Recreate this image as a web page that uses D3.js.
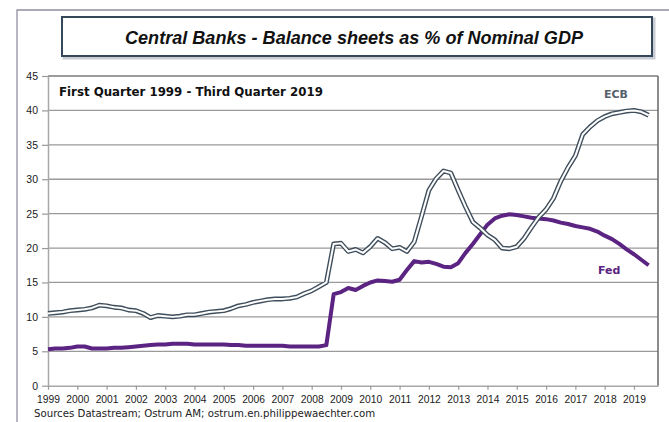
<!DOCTYPE html>
<html>
<head>
<meta charset="utf-8">
<script src="https://cdn.jsdelivr.net/npm/d3@7"></script>
<style>
  body { margin: 0; background: #fff; }
  svg { display: block; }
</style>
</head>
<body>
<div id="chart"></div>
<script>
// quarterly data, Q1 1999 .. Q3 2019 (% of nominal GDP)
var ecb = [10.5, 10.6, 10.7, 10.9,  11.0, 11.1, 11.3, 11.7,  11.6, 11.4, 11.3, 11.0,
           10.9, 10.5, 9.9, 10.2,   10.1, 10.0, 10.1, 10.3,  10.3, 10.5, 10.7, 10.8,
           10.9, 11.2, 11.6, 11.8,  12.1, 12.3, 12.5, 12.6,  12.6, 12.7, 12.9, 13.4,
           13.8, 14.4, 15.0, 20.6,  20.7, 19.5, 19.8, 19.3,  20.2, 21.4, 20.8, 19.9,
           20.1, 19.5, 20.9, 24.6,  28.4, 30.1, 31.2, 30.9,  28.4, 26.0, 23.8, 22.9,
           21.9, 21.2, 20.0, 19.9,  20.2, 21.4, 23.0, 24.5,  25.6, 27.2, 29.7, 31.7,
           33.4, 36.5, 37.6, 38.5,  39.1, 39.5, 39.7, 39.9,  40.0, 39.8, 39.3];
var fed = [5.3, 5.4, 5.4, 5.5,  5.7, 5.7, 5.4, 5.4,  5.4, 5.5, 5.5, 5.6,
           5.7, 5.8, 5.9, 6.0,  6.0, 6.1, 6.1, 6.1,  6.0, 6.0, 6.0, 6.0,
           6.0, 5.9, 5.9, 5.8,  5.8, 5.8, 5.8, 5.8,  5.8, 5.7, 5.7, 5.7,
           5.7, 5.7, 5.9, 13.3, 13.6, 14.2, 13.9, 14.5,  15.0, 15.3, 15.2, 15.1,
           15.4, 16.8, 18.1, 17.9,  18.0, 17.7, 17.3, 17.2,  17.8, 19.3, 20.6, 22.0,
           23.4, 24.3, 24.7, 24.9,  24.8, 24.6, 24.4, 24.3,  24.2, 24.0, 23.7, 23.5,
           23.2, 23.0, 22.8, 22.4,  21.8, 21.3, 20.6, 19.8,  19.1, 18.3, 17.5];
var startYear = 1999;
var years = d3.range(1999, 2020);
var yTicks = [0, 5, 10, 15, 20, 25, 30, 35, 40, 45];

var W = 669, H = 422;
var svg = d3.select("#chart").append("svg")
  .attr("width", W)
  .attr("height", H);

svg.append("rect").attr("width", W).attr("height", H).attr("fill", "#fff");

// outer frame (runs off the picture on right and bottom)
svg.append("path")
  .attr("d", "M17," + (H + 5) + "V10H" + (W + 5))
  .attr("fill", "none")
  .attr("stroke", "#8e90a0")
  .attr("stroke-width", 1.3);

// title box
svg.append("rect")
  .attr("x", 63).attr("y", 18).attr("width", 590).attr("height", 39)
  .attr("fill", "none")
  .attr("stroke", "#c9ccd2")
  .attr("stroke-width", 3)
  .attr("transform", "translate(1,1)");
svg.append("rect")
  .attr("x", 62).attr("y", 17).attr("width", 590).attr("height", 39)
  .attr("fill", "#fff")
  .attr("stroke", "#34485a")
  .attr("stroke-width", 2);
svg.append("text")
  .attr("x", 354).attr("y", 44)
  .attr("text-anchor", "middle")
  .attr("textLength", 458)
  .attr("lengthAdjust", "spacingAndGlyphs")
  .style("font-family", "'Liberation Sans', Arial, sans-serif")
  .style("font-size", "18.5px")
  .style("font-weight", "bold")
  .style("font-style", "italic")
  .attr("fill", "#111")
  .text("Central Banks - Balance sheets as % of Nominal GDP");

var x0 = 48, x1 = 658, yTop = 76, yBot = 385.7;
var x = d3.scaleLinear().domain([1999, 2019.82]).range([x0, x1]);
var y = d3.scaleLinear().domain([0, 45]).range([yBot, yTop]);

// gridlines
svg.append("g")
  .selectAll("line")
  .data(yTicks.filter(function (d) { return d > 0; }))
  .enter().append("line")
  .attr("x1", x0).attr("x2", x1)
  .attr("y1", function (d) { return y(d); })
  .attr("y2", function (d) { return y(d); })
  .attr("stroke", function (d) { return d === 45 ? "#7c7c7c" : "#9a9a9a"; })
  .attr("stroke-width", function (d) { return d === 45 ? 1.6 : 1.3; });

// right border
svg.append("line")
  .attr("x1", x1).attr("x2", x1).attr("y1", yTop).attr("y2", yBot)
  .attr("stroke", "#6f6f6f").attr("stroke-width", 1.6);

// axes
var yAxis = svg.append("g")
  .attr("transform", "translate(" + x0 + ",0)")
  .call(d3.axisLeft(y).tickValues(yTicks).tickSize(6).tickPadding(4).tickSizeOuter(0));
var xAxis = svg.append("g")
  .attr("transform", "translate(0," + yBot + ")")
  .call(d3.axisBottom(x).tickValues(years).tickFormat(d3.format("d")).tickSize(4).tickPadding(6).tickSizeOuter(0));

[yAxis, xAxis].forEach(function (g) {
  g.select(".domain").attr("stroke", "#a8a8a8").attr("stroke-width", 1.5);
  g.selectAll(".tick line").attr("stroke", "#9a9a9a").attr("stroke-width", 1.2);
  g.selectAll("text")
    .style("font-family", "'Liberation Sans', Arial, sans-serif")
    .attr("fill", "#1a1a1a");
});
yAxis.selectAll("text").style("font-size", "10.5px");
xAxis.selectAll("text").style("font-size", "10.3px");

// lines
var line = d3.line()
  .x(function (d, i) { return x(startYear + i / 4); })
  .y(function (d) { return y(d); });

svg.append("path")
  .datum(fed)
  .attr("d", line)
  .attr("fill", "none")
  .attr("stroke", "#5b2382")
  .attr("stroke-width", 4)
  .attr("stroke-linejoin", "round");

svg.append("path")
  .datum(ecb)
  .attr("d", line)
  .attr("fill", "none")
  .attr("stroke", "#3f4e5c")
  .attr("stroke-width", 4.8)
  .attr("stroke-linejoin", "round");
svg.append("path")
  .datum(ecb)
  .attr("d", line)
  .attr("fill", "none")
  .attr("stroke", "#fff")
  .attr("stroke-width", 2)
  .attr("stroke-linejoin", "round");

// labels
svg.append("text")
  .attr("x", 59).attr("y", 96)
  .style("font-family", "'DejaVu Sans', Verdana, sans-serif")
  .style("font-size", "11.8px")
  .style("font-weight", "bold")
  .attr("fill", "#111")
  .text("First Quarter 1999 - Third Quarter 2019");

svg.append("text")
  .attr("x", 604).attr("y", 98)
  .style("font-family", "'DejaVu Sans', Verdana, sans-serif")
  .style("font-size", "11px")
  .style("font-weight", "bold")
  .attr("fill", "#56606b")
  .text("ECB");

svg.append("text")
  .attr("x", 598).attr("y", 274)
  .style("font-family", "'DejaVu Sans', Verdana, sans-serif")
  .style("font-size", "11px")
  .style("font-weight", "bold")
  .attr("fill", "#5b2382")
  .text("Fed");

svg.append("text")
  .attr("x", 34).attr("y", 417)
  .style("font-family", "'DejaVu Sans', Verdana, sans-serif")
  .style("font-size", "10.2px")
  .attr("fill", "#222")
  .text("Sources Datastream;  Ostrum AM;  ostrum.en.philippewaechter.com");
</script>
</body>
</html>
